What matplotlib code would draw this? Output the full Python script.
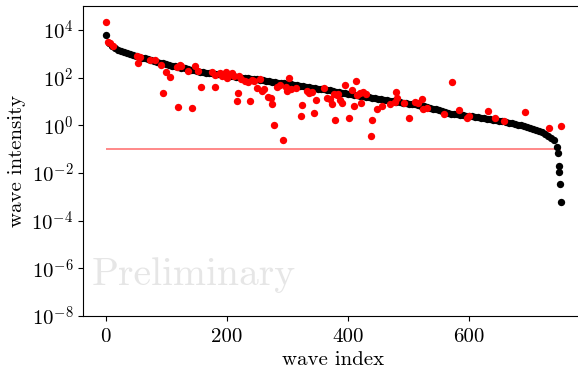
import numpy as np
import matplotlib
matplotlib.use("Agg")
import matplotlib.pyplot as plt
from matplotlib.ticker import FuncFormatter, NullLocator

plt.rcParams['font.family'] = 'serif'
plt.rcParams['font.serif'] = ['cmr10']
plt.rcParams['mathtext.fontset'] = 'cm'
plt.rcParams['axes.unicode_minus'] = False

# black: sorted wave intensities, read every 5th index (log10 values)
black_idx = list(range(0, 750, 5)) + [747, 748, 749, 750, 752]
black_log = [
    3.77, 3.45, 3.31, 3.22, 3.15, 3.10, 3.06, 3.02, 2.98, 2.94,
    2.91, 2.87, 2.84, 2.80, 2.76, 2.72, 2.69, 2.65, 2.62, 2.59,
    2.56, 2.53, 2.50, 2.47, 2.44, 2.42, 2.39, 2.36, 2.33, 2.31,
    2.28, 2.25, 2.23, 2.21, 2.19, 2.18, 2.16, 2.14, 2.13, 2.11,
    2.10, 2.08, 2.06, 2.04, 2.02, 2.00, 1.99, 1.97, 1.95, 1.93,
    1.92, 1.90, 1.88, 1.86, 1.85, 1.83, 1.81, 1.79, 1.77, 1.75,
    1.73, 1.71, 1.69, 1.68, 1.66, 1.64, 1.62, 1.60, 1.58, 1.56,
    1.54, 1.52, 1.50, 1.48, 1.46, 1.43, 1.41, 1.39, 1.36, 1.34,
    1.32, 1.30, 1.28, 1.26, 1.24, 1.22, 1.20, 1.18, 1.16, 1.13,
    1.11, 1.09, 1.07, 1.05, 1.03, 1.01, 0.99, 0.97, 0.95, 0.93,
    0.91, 0.89, 0.87, 0.85, 0.82, 0.79, 0.76, 0.73, 0.70, 0.66,
    0.62, 0.58, 0.54, 0.51, 0.49, 0.47, 0.45, 0.43, 0.42, 0.40,
    0.38, 0.37, 0.35, 0.33, 0.31, 0.29, 0.27, 0.25, 0.23, 0.21,
    0.19, 0.17, 0.14, 0.11, 0.08, 0.05, 0.02, 0.00, -0.03, -0.06,
    -0.10, -0.14, -0.19, -0.24, -0.30, -0.37, -0.45, -0.52, -0.62, -0.90,
    -1.16, -1.72, -1.96, -2.47, -3.23,
]

# red: individual estimates (index, log10 intensity)
red_idx = [
    0, 4, 7, 12, 51, 53, 56, 73, 81, 92, 95, 100, 106, 117, 120, 122, 125,
    136, 142, 147, 153, 158, 175, 180, 181, 189, 192, 195, 198, 200, 203,
    208, 212, 216, 218, 220, 224, 230, 235, 238, 242, 245, 250, 255, 258,
    262, 268, 272, 275, 278, 282, 288, 293, 297, 299, 302, 306, 314, 322,
    324, 333, 336, 340, 344, 347, 360, 366, 370, 373, 376, 379, 381, 383,
    387, 390, 395, 402, 406, 410, 413, 415, 420, 422, 425, 430, 438, 439,
    448, 456, 469, 478, 480, 481, 493, 500, 511, 515, 522, 523, 530, 558,
    572, 583, 597, 600, 631, 642, 657, 692, 732, 751,
]
red_log = [
    4.33, 3.49, 3.45, 3.31, 2.89, 2.59, 2.87, 2.75, 2.73, 2.52, 1.35, 2.24, 2.03, 2.45, 0.77, 2.52, 2.48,
    2.28, 0.74, 2.47, 2.28, 1.60, 2.24, 2.10, 1.60, 2.20, 2.05, 2.15, 2.25, 2.00, 2.10,
    2.20, 2.08, 1.00, 1.37, 2.05, 1.92, 1.85, 1.80, 1.02, 1.88, 1.85, 1.55, 1.92, 1.45,
    1.52, 1.20, 1.15, 0.88, 0.00, 1.62, 1.70, -0.60, 1.62, 1.42, 1.98, 1.50, 1.55, 0.40,
    0.83, 1.45, 1.35, 1.38, 0.53, 1.05, 1.56, 1.15, 1.08, 0.90, 1.30, 0.24, 1.28, 1.32,
    1.05, 0.95, 1.68, 0.32, 1.47, 0.80, 1.84, 1.25, 1.35, 0.94, 1.38, 1.30, -0.45, 0.21,
    0.66, 0.80, 0.88, 0.98, 1.40, 1.16, 0.94, 0.31, 0.97, 0.92, 1.08, 0.67, 0.74, 0.46,
    1.80, 0.63, 0.30, 0.38, 0.60, 0.32, 0.17, 0.55, -0.10, -0.04,
]

threshold = 0.1
threshold_range = [0, 752]

fig = plt.figure(figsize=(5.78, 3.68), dpi=100)
ax = fig.add_axes([0.1436, 0.1413, 0.8668, 0.8424])

ax.scatter(black_idx, 10 ** np.array(black_log), s=28, color='black', linewidths=0, zorder=2)
ax.scatter(red_idx, 10 ** np.array(red_log), s=28, color='red', linewidths=0, zorder=3)
ax.hlines(threshold, threshold_range[0], threshold_range[1], color='red', alpha=0.5, lw=1.3, zorder=1)

ax.set_yscale('log')
ax.set_ylim(1e-8, 1e5)
ax.set_xlim(-37.6, 789.6)
ax.set_yticks([1e-8, 1e-6, 1e-4, 1e-2, 1e0, 1e2, 1e4])
ax.yaxis.set_major_formatter(FuncFormatter(lambda v, p: r'$10^{%d}$' % int(round(np.log10(v)))))
ax.yaxis.set_minor_locator(NullLocator())
ax.set_xticks([0, 200, 400, 600])
ax.tick_params(labelsize=15)
ax.tick_params(axis='x', pad=5)

ax.set_xlabel('wave index', fontsize=15, labelpad=4)
ax.set_ylabel('wave intensity', fontsize=15)

ax.text(0.018, 0.1, 'Preliminary', transform=ax.transAxes, fontsize=28.5,
        color='#e6e6e6', ha='left', va='baseline', zorder=0)

fig.savefig('out.png', dpi=100)
